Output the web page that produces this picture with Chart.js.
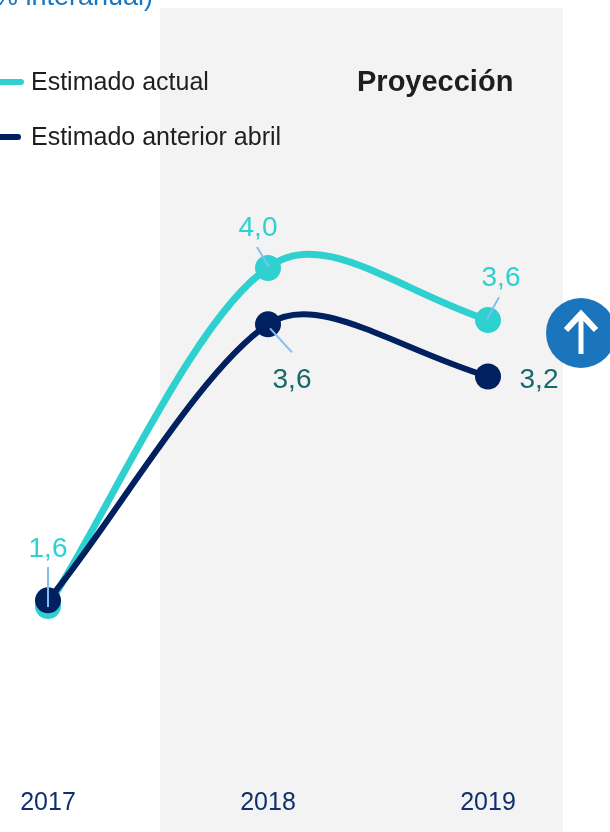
<!DOCTYPE html>
<html>
<head>
<meta charset="utf-8">
<style>
  html, body { margin: 0; padding: 0; background: #fff; overflow: hidden; }
  canvas { display: block; }
</style>
<script src="https://cdn.jsdelivr.net/npm/chart.js"></script>
</head>
<body>
<canvas id="chart" width="610" height="832"></canvas>
<script>
const years = ['2017', '2018', '2019']
const estimadoActual = [1.6, 4.0, 3.63]
const estimadoAnterior = [1.64, 3.6, 3.23]
const legendNames = ['Estimado actual', 'Estimado anterior abril']
const subtitle = '% interanual)'
const bandTitle = 'Proyección'

const FONT = '"Liberation Sans", Arial, sans-serif'
const TEAL = '#2fd0d0'
const NAVY = '#00205f'

// label placement for each series: [dx, dy] of the text and of the leader line, from the point
const actualLabels = [
  { text: [0, -57], line: [0, -39, 0, 1] },
  { text: [-10, -40], line: [-11, -21, 1, -1] },
  { text: [13, -42], line: [11, -23, -1, -1] }
]
const anteriorLabels = [
  null,
  { text: [24, 56], line: [2, 4, 24, 28] },
  { text: [51, 4], line: null }
]

// smoothing handles per segment, as offsets from its two ends: [outX, outY, inX, inY]
const actualCurve = [[59, -91, -73, 48], [52, -42, -90, -30]]
const anteriorCurve = [[60, -70, -70, 47], [48, -34, -90, -27]]

// the original curve is not symmetric around its points, so the handles are set by hand
const curveShape = {
  id: 'curveShape',
  beforeDatasetsDraw(chart) {
    ;[anteriorCurve, actualCurve].forEach((curve, d) => {
      const line = chart.getDatasetMeta(d).dataset
      line.updateControlPoints(chart.chartArea)
      curve.forEach((h, i) => {
        const from = line.points[i]
        const to = line.points[i + 1]
        from.cp2x = from.x + h[0]
        from.cp2y = from.y + h[1]
        to.cp1x = to.x + h[2]
        to.cp1y = to.y + h[3]
      })
    })
  }
}

const decorations = {
  id: 'decorations',
  beforeDraw(chart) {
    const c = chart.ctx
    const x = chart.scales.x
    // grey forecast band, starts between the first two years
    c.save()
    c.fillStyle = '#f3f3f3'
    c.fillRect(x.getPixelForValue(0) + 112, 8, 403, 824)
    c.restore()
  },
  afterDraw(chart) {
    const c = chart.ctx
    c.save()

    // cut-off subtitle at the top
    c.font = '27px ' + FONT
    c.fillStyle = '#1b75bc'
    c.textAlign = 'right'
    c.textBaseline = 'alphabetic'
    c.fillText(subtitle, 153, 5)

    // legend
    c.lineCap = 'round'
    c.textAlign = 'left'
    c.textBaseline = 'middle'
    const legendEnds = [21, 18]
    ;[TEAL, NAVY].forEach((color, i) => {
      const y = 82 + i * 55
      c.strokeStyle = color
      c.lineWidth = 6
      c.beginPath()
      c.moveTo(-10, y)
      c.lineTo(legendEnds[i], y)
      c.stroke()
      c.font = '25px ' + FONT
      c.fillStyle = '#1e1e1e'
      c.fillText(legendNames[i], 31, y + 1)
    })

    // band title
    c.font = 'bold 29px ' + FONT
    c.fillStyle = '#1e1e1e'
    c.fillText(bandTitle, 357, 83)

    // value labels with leader lines
    c.lineCap = 'butt'
    c.textAlign = 'center'
    c.font = '28px ' + FONT
    const drawLabels = (datasetIndex, placement, color) => {
      const points = chart.getDatasetMeta(datasetIndex).data
      const values = chart.data.datasets[datasetIndex].data
      placement.forEach((p, i) => {
        if (!p) return
        const px = points[i].x
        const py = points[i].y
        if (p.line) {
          c.strokeStyle = '#82bdf5'
          c.lineWidth = 2
          c.beginPath()
          c.moveTo(px + p.line[0], py + p.line[1])
          c.lineTo(px + p.line[2], py + p.line[3])
          c.stroke()
        }
        c.fillStyle = color
        c.fillText(values[i].toFixed(1).replace('.', ','), px + p.text[0], py + p.text[1])
      })
    }
    drawLabels(1, actualLabels, TEAL)
    drawLabels(0, anteriorLabels, '#176a6c')

    // up arrow badge
    c.fillStyle = '#1b75bc'
    c.beginPath()
    c.arc(581, 333, 35, 0, Math.PI * 2)
    c.fill()
    c.strokeStyle = '#fff'
    c.lineWidth = 6
    c.lineJoin = 'miter'
    c.beginPath()
    c.moveTo(566, 330)
    c.lineTo(581, 314)
    c.lineTo(596, 330)
    c.stroke()
    c.lineWidth = 5
    c.beginPath()
    c.moveTo(581, 354)
    c.lineTo(581, 316)
    c.stroke()

    c.restore()
  }
}

new Chart(document.getElementById('chart').getContext('2d'), {
  type: 'line',
  data: {
    labels: years,
    datasets: [
      {
        label: legendNames[1],
        data: estimadoAnterior,
        borderColor: NAVY,
        backgroundColor: NAVY,
        borderWidth: 6,
        pointRadius: 13,
        pointBackgroundColor: NAVY,
        pointBorderWidth: 0,
        tension: 0.4,
        clip: false
      },
      {
        label: legendNames[0],
        data: estimadoActual,
        borderColor: TEAL,
        backgroundColor: TEAL,
        borderWidth: 7,
        pointRadius: 13,
        pointBackgroundColor: TEAL,
        pointBorderWidth: 0,
        tension: 0.4,
        clip: false
      }
    ]
  },
  options: {
    responsive: false,
    animation: false,
    layout: { padding: { left: 48, right: 122, top: 99, bottom: 0 } },
    plugins: { legend: { display: false }, tooltip: { enabled: false } },
    scales: {
      x: {
        offset: false,
        grid: { display: false },
        border: { display: false },
        afterFit(scale) { scale.height = 57 },
        ticks: {
          color: '#12306e',
          padding: 5,
          maxRotation: 0,
          font: { family: FONT, size: 25 }
        }
      },
      y: {
        display: false,
        min: 0.4,
        max: 5.2
      }
    }
  },
  plugins: [curveShape, decorations]
})
</script>
</body>
</html>
